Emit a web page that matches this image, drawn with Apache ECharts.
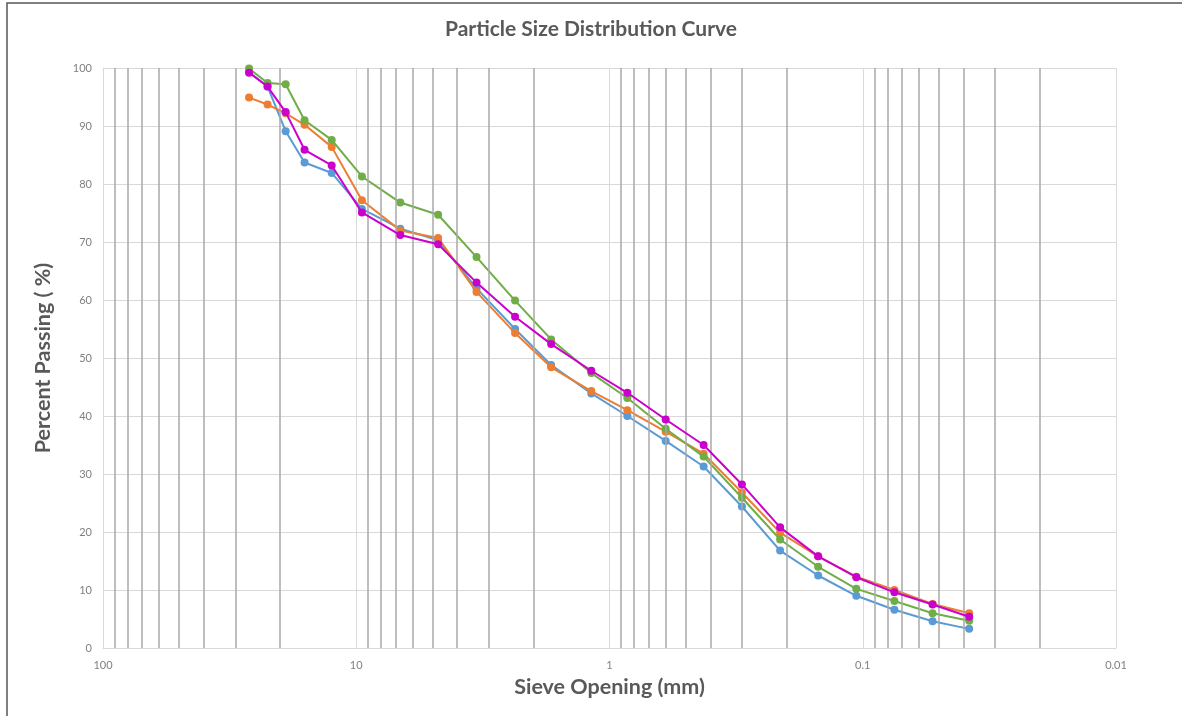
<!DOCTYPE html>
<html>
<head>
<meta charset="utf-8">
<script src="https://cdn.jsdelivr.net/npm/echarts@6/dist/echarts.min.js"></script>
<style>
html,body{margin:0;padding:0;background:#fff;}
#chart{width:1182px;height:716px;}
</style>
</head>
<body>
<div id="chart"></div>
<script>
// Sieve openings (mm)
const sieveSizes = [26.5, 22.4, 19, 16, 12.5, 9.5, 6.7, 4.75, 3.35, 2.36, 1.7, 1.18, 0.85, 0.6, 0.425, 0.3, 0.212, 0.15, 0.106, 0.075, 0.053, 0.038];
// Percent passing per sample
const sampleBlue    = [99.3, 96.8, 89.1, 83.7, 81.9, 75.7, 72.3, 70.3, 62.0, 55.0, 48.8, 43.9, 40.0, 35.7, 31.3, 24.4, 16.8, 12.5, 9.0, 6.6, 4.6, 3.3];
const sampleOrange  = [94.9, 93.7, 92.2, 90.2, 86.4, 77.2, 72.0, 70.7, 61.4, 54.3, 48.4, 44.3, 41.0, 37.3, 33.5, 26.8, 19.9, 15.8, 12.3, 10.0, 7.6, 6.0];
const sampleGreen   = [99.9, 97.4, 97.2, 91.0, 87.6, 81.3, 76.8, 74.7, 67.4, 59.9, 53.2, 47.4, 43.1, 37.8, 33.0, 25.9, 18.7, 14.0, 10.2, 8.1, 6.0, 4.7];
const sampleMagenta = [99.2, 96.8, 92.4, 85.9, 83.2, 75.1, 71.2, 69.6, 63.0, 57.1, 52.4, 47.8, 44.0, 39.4, 35.0, 28.2, 20.8, 15.8, 12.2, 9.6, 7.5, 5.4];
// Minor (log) gridline values
const minorGridValues = [90, 80, 70, 60, 50, 40, 30, 20, 9, 8, 7, 6, 5, 4, 3, 2, 0.9, 0.8, 0.7, 0.6, 0.5, 0.4, 0.3, 0.2, 0.09, 0.08, 0.07, 0.06, 0.05, 0.04, 0.03, 0.02];
const xTickLabels = ['100', '10', '1', '0.1', '0.01'];

const seriesDefs = [
  {name: 'Sample 1', values: sampleBlue, color: '#5B9BD5'},
  {name: 'Sample 2', values: sampleOrange, color: '#ED7D31'},
  {name: 'Sample 3', values: sampleGreen, color: '#70AD47'},
  {name: 'Sample 4', values: sampleMagenta, color: '#CC00CC'}
];

const FONT = 'Lato, "Open Sans", sans-serif';
const chart = echarts.init(document.getElementById('chart'));

const series = [{
  name: 'minor',
  type: 'line',
  data: [],
  z: 1,
  silent: true,
  markLine: {
    silent: true,
    symbol: ['none', 'none'],
    label: {show: false},
    lineStyle: {color: '#a8a8a8', width: 1.5, type: 'solid'},
    emphasis: {disabled: true},
    animation: false,
    data: minorGridValues.map(v => ({xAxis: v}))
  }
}];
seriesDefs.forEach((s, i) => {
  series.push({
    name: s.name,
    type: 'line',
    z: 2 + i,
    data: sieveSizes.map((x, j) => [x, s.values[j]]),
    symbol: 'circle',
    symbolSize: 8,
    showSymbol: true,
    lineStyle: {color: s.color, width: 2},
    itemStyle: {color: s.color},
    animation: false
  });
});

chart.setOption({
  animation: false,
  backgroundColor: '#fff',
  title: {
    text: 'Particle Size Distribution Curve',
    left: 'center',
    top: 14,
    textStyle: {fontFamily: FONT, fontSize: 21, fontWeight: 'bold', color: '#595959'}
  },
  graphic: [{
    type: 'rect',
    shape: {x: 7, y: 3, width: 1400, height: 900},
    style: {fill: 'none', stroke: '#555', lineWidth: 1.5},
    silent: true
  }],
  grid: {left: 103, right: 66, top: 68, bottom: 68},
  xAxis: {
    type: 'log',
    logBase: 10,
    min: 0.01,
    max: 100,
    inverse: true,
    name: 'Sieve Opening (mm)',
    nameLocation: 'middle',
    nameGap: 27,
    nameTextStyle: {fontFamily: FONT, fontSize: 21.5, fontWeight: 'bold', color: '#595959'},
    axisLine: {show: true, lineStyle: {color: '#d9d9d9', width: 1}},
    axisTick: {show: false},
    axisLabel: {
      fontFamily: FONT, fontSize: 11, color: '#808080', margin: 12,
      formatter: function (v) {
        const s = String(+v.toPrecision(6));
        return xTickLabels.indexOf(s) >= 0 ? s : '';
      }
    },
    splitLine: {show: true, lineStyle: {color: '#d9d9d9', width: 1}}
  },
  yAxis: {
    type: 'value',
    min: 0,
    max: 100,
    interval: 10,
    name: 'Percent Passing ( %)',
    nameLocation: 'middle',
    nameGap: 49,
    nameRotate: 90,
    nameTextStyle: {fontFamily: FONT, fontSize: 21.5, fontWeight: 'bold', color: '#595959'},
    axisLine: {show: true, lineStyle: {color: '#d9d9d9'}},
    axisTick: {show: false},
    axisLabel: {fontFamily: FONT, fontSize: 11, color: '#808080', margin: 11},
    splitLine: {show: true, lineStyle: {color: '#d9d9d9', width: 1}}
  },
  series: series
});
</script>
</body>
</html>
